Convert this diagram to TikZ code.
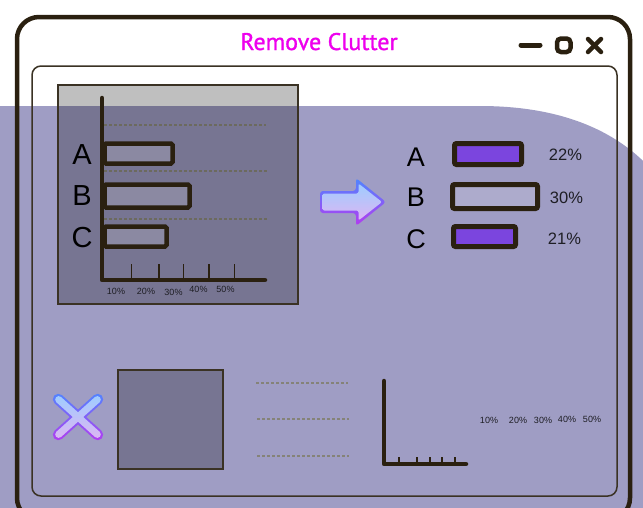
\documentclass[tikz,border=0pt]{standalone}
\usepackage{fontspec}
\setmainfont{Liberation Sans}
\newfontfamily\titlefont[FakeBold=1.2]{PT Sans}
\usetikzlibrary{calc}

\definecolor{ink}{HTML}{2A2010}
\definecolor{frameline}{HTML}{3A3224}
\definecolor{blob}{HTML}{9F9DC4}
\definecolor{barfill}{HTML}{7B45DE}
\definecolor{dashgray}{HTML}{6C6A5E}
\definecolor{dashlight}{HTML}{858378}
\definecolor{titlepink}{HTML}{EE00EE}
\definecolor{labelink}{HTML}{1E1E24}
\definecolor{iconblue}{HTML}{4F86FF}
\definecolor{iconpurple}{HTML}{B53AF0}
\definecolor{paleblue}{HTML}{9ECDFF}
\definecolor{palepink}{HTML}{DDB6F2}

\tikzset{
  windowframe/.style={draw=ink, line width=4.5},
  innerframe/.style={draw=frameline, line width=1.5, rounded corners=9pt},
  darkpanel/.style={draw=frameline, line width=1.3, fill=black, fill opacity=0.25},
  hbar/.style={draw=ink, line width=4.5, rounded corners=1.5pt, fill=white, fill opacity=0.15},
  solidbar/.style={draw=ink, line width=5, rounded corners=2pt, fill=barfill},
  palebar/.style={draw=ink, line width=5, rounded corners=2pt, fill=white, fill opacity=0.15},
  axisline/.style={draw=ink, line width=4.5, line cap=round, line join=round},
  tickline/.style={draw=ink, line width=1.5},
  gridline/.style={draw=dashgray, line width=1.1, dash pattern=on 3pt off 2pt},
  ghostline/.style={draw=dashlight, line width=1.1, dash pattern=on 3pt off 2pt},
  biglabel/.style={inner sep=0pt, text=black, font=\fontsize{29}{29}\selectfont},
  midlabel/.style={inner sep=0pt, text=black, font=\fontsize{27}{27}\selectfont},
  pctlabel/.style={inner sep=0pt, text=labelink, font=\fontsize{16.5}{16.5}\selectfont},
  ticklabel/.style={inner sep=0pt, text=labelink, font=\fontsize{9}{9}\selectfont},
  ctrl/.style={draw=ink, line cap=round},
}

\begin{document}
\begin{tikzpicture}[x=1pt, y=-1pt]
\useasboundingbox (0,0) rectangle (643,507);
\fill[white] (0,0) rectangle (643,507);

% lavender backdrop with a sweeping top-right edge
\fill[blob] (0,106) -- (480,106) .. controls (560,106) and (615,130) .. (650,168)
  -- (650,515) -- (0,515) -- cycle;

% application window
\draw[windowframe, rounded corners=22pt] (17,17) rectangle (630,520);
\draw[innerframe] (32,66) rectangle (617,496);
\node[text=titlepink, font=\titlefont\fontsize{24}{24}\selectfont, anchor=base, inner sep=0pt]
  (title) at (319,50) {Remove Clutter};

% window buttons
\draw[ctrl, line width=5] (521,45) -- (540,45);
\draw[ctrl, line width=4.5, rounded corners=4pt] (557,38.5) rectangle (570.5,52);
\draw[ctrl, line width=4.5] (588,39) -- (601,52);
\draw[ctrl, line width=4.5] (601,39) -- (588,52);

% ---- cluttered chart ----
\node[darkpanel, minimum width=240pt, minimum height=219pt, inner sep=0pt] (chart) at (178,194.5) {};
\draw[gridline] (104,125) -- (266,125);
\draw[gridline] (104,171) -- (268,171);
\draw[gridline] (104,219) -- (268,219);
\draw[hbar] (104.5,143.5) rectangle (172.5,163.5);
\draw[hbar] (104.5,184.5) rectangle (189.5,207.5);
\draw[hbar] (104.5,226.5) rectangle (166.5,246.5);
\foreach \tx in {131.7,159,183.3,209,234.3}
  \draw[tickline] (\tx,264) -- (\tx,280);
\draw[axisline] (102,98) -- (102,280) -- (265,280);
\node[biglabel] (la) at (82,154.5) {A};
\node[biglabel] (lb) at (82,196) {B};
\node[biglabel] (lc) at (82,238) {C};
\node[ticklabel] (t1) at (116,291.5) {10\%};
\node[ticklabel] (t2) at (146,291.5) {20\%};
\node[ticklabel] (t3) at (173.5,292.5) {30\%};
\node[ticklabel] (t4) at (198.5,289.5) {40\%};
\node[ticklabel] (t5) at (225.5,289.5) {50\%};

% ---- arrow icon ----
\shade[top color=iconblue, bottom color=iconpurple, rounded corners=3pt]
  (320,191) -- (356,191) -- (356,178) -- (386,202) -- (356,226) -- (356,213) -- (320,213) -- cycle;
\shade[top color=paleblue, bottom color=palepink, rounded corners=2pt]
  (322.5,193.5) -- (358.5,193.5) -- (358.5,183.5) -- (382,202) -- (358.5,220.5) -- (358.5,210.5) -- (322.5,210.5) -- cycle;

% ---- clean chart ----
\node[midlabel] (ra) at (416,157.5) {A};
\node[midlabel] (rb) at (416,197.5) {B};
\node[midlabel] (rc) at (416,239) {C};
\draw[solidbar] (454.5,143.5) rectangle (521.5,164.5);
\draw[palebar] (452.5,184.5) rectangle (537.5,208.5);
\draw[solidbar] (453.5,226.5) rectangle (515.5,246.5);
\node[pctlabel] (pa) at (565.5,155) {22\%};
\node[pctlabel] (pb) at (566.5,197.5) {30\%};
\node[pctlabel] (pc) at (564.5,238.5) {21\%};

% ---- removed parts ----
\shade[top color=iconblue, bottom color=iconpurple]
  {[rotate around={42:(78,417)}, rounded corners=5.5pt] (46,411.5) rectangle (110,422.5)}
  {[rotate around={-42:(78,417)}, rounded corners=5.5pt] (46,411.5) rectangle (110,422.5)};
\shade[top color=paleblue, bottom color=palepink]
  {[rotate around={42:(78,417)}, rounded corners=3.5pt] (48.5,413.5) rectangle (107.5,420.5)}
  {[rotate around={-42:(78,417)}, rounded corners=3.5pt] (48.5,413.5) rectangle (107.5,420.5)};

\node[darkpanel, minimum width=105pt, minimum height=99pt, inner sep=0pt] (frame) at (170.5,419.5) {};

\draw[ghostline] (256,383) -- (348,383);
\draw[ghostline] (257,419) -- (349,419);
\draw[ghostline] (257,456) -- (349,456);

\foreach \tx in {399,417,430,442,455}
  \draw[tickline] (\tx,457) -- (\tx,464);
\draw[axisline] (384,381) -- (384,464) -- (466,464);

\node[ticklabel] (b1) at (489,420.5) {10\%};
\node[ticklabel] (b2) at (518,420.5) {20\%};
\node[ticklabel] (b3) at (543,420.5) {30\%};
\node[ticklabel] (b4) at (567,419.5) {40\%};
\node[ticklabel] (b5) at (592,419.5) {50\%};
\end{tikzpicture}
\end{document}
